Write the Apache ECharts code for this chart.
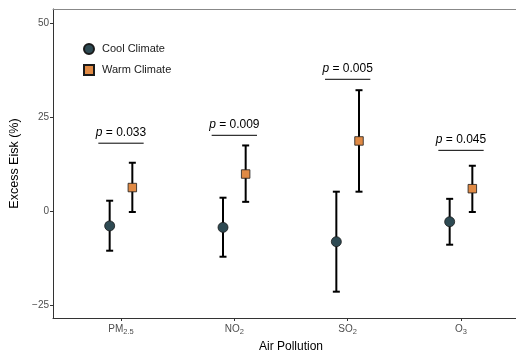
<!DOCTYPE html>
<html><head><meta charset="utf-8">
<script src="https://cdn.jsdelivr.net/npm/echarts@6/dist/echarts.min.js"></script>
<style>html,body{margin:0;padding:0;background:#fff}#c{width:516px;height:352px}</style>
</head><body><div id="c"></div>
<script>
const categories = ['PM2.5', 'NO2', 'SO2', 'O3'];
const coolMean  = [-4.0, -4.4, -8.2, -2.9];
const coolLow   = [-10.6, -12.2, -21.5, -9.0];
const coolHigh  = [2.7, 3.5, 5.1, 3.2];
const warmMean  = [6.2, 9.8, 18.6, 5.9];
const warmLow   = [-0.3, 2.4, 5.1, -0.3];
const warmHigh  = [12.8, 17.4, 32.1, 12.0];
const pValues   = ['0.033', '0.009', '0.005', '0.045'];
const pLineY    = [18.0, 20.1, 35.0, 16.1];
const yTicks    = [-25, 0, 25, 50];

const dodge = 0.1;
const xPos = categories.map((c, i) => i + 1);

function subLabel(name) {
  const m = name.match(/^([A-Z]+)(.*)$/);
  return m[2] ? '{a|' + m[1] + '}{s|' + m[2] + '}' : '{a|' + name + '}';
}

const coolData = xPos.map((x, i) => [x - dodge, coolMean[i]]);
const warmData = xPos.map((x, i) => [x + dodge, warmMean[i]]);
const errData = [];
xPos.forEach((x, i) => {
  errData.push([x - dodge, coolLow[i], coolHigh[i]]);
  errData.push([x + dodge, warmLow[i], warmHigh[i]]);
});
const pData = xPos.map((x, i) => [x, pLineY[i], pValues[i]]);

const chart = echarts.init(document.getElementById('c'));
const FONT = 'Liberation Sans, Arial, sans-serif';
chart.setOption({
  animation: false,
  textStyle: { fontFamily: FONT },
  grid: { left: 53, top: 9, right: -13, bottom: 34, containLabel: false, outerBoundsMode: 'none' },
  legend: {
    left: 78, top: 38, orient: 'vertical', itemGap: 9,
    itemWidth: 10, itemHeight: 10,
    textStyle: { fontSize: 11, color: '#1a1a1a', fontFamily: FONT, padding: [0, 0, 0, 3] },
    data: [{ name: 'Cool Climate', icon: 'circle' }, { name: 'Warm Climate', icon: 'rect' }]
  },
  xAxis: [{
    type: 'value', min: 0.4, max: 4.6,
    name: 'Air Pollution', nameLocation: 'middle', nameGap: 21,
    nameTextStyle: { fontSize: 12, color: '#000', fontFamily: FONT },
    splitLine: { show: false },
    axisLine: { show: true, onZero: false, lineStyle: { color: '#333', width: 1 } },
    axisTick: { show: true, length: 3, customValues: xPos, lineStyle: { color: '#333' } },
    axisLabel: {
      customValues: xPos, margin: 4, color: '#4d4d4d', fontSize: 10,
      formatter: v => subLabel(categories[Math.round(v) - 1]),
      rich: {
        a: { fontSize: 10, color: '#4d4d4d', fontFamily: FONT },
        s: { fontSize: 7.5, color: '#4d4d4d', fontFamily: FONT, padding: [6, 0, 0, 0] }
      }
    }
  }, {
    type: 'value', position: 'top', min: 0.4, max: 4.6,
    axisLine: { show: true, onZero: false, lineStyle: { color: '#888', width: 1 } },
    axisTick: { show: false }, axisLabel: { show: false }, splitLine: { show: false }
  }],
  yAxis: {
    type: 'value', min: -28.5, max: 53.7,
    name: 'Excess Eisk (%)', nameLocation: 'middle', nameGap: 28,
    nameTextStyle: { fontSize: 12.5, color: '#000', fontFamily: FONT },
    splitLine: { show: false },
    axisLine: { show: true, onZero: false, lineStyle: { color: '#333', width: 1 } },
    axisTick: { show: true, length: 3, customValues: yTicks, lineStyle: { color: '#333' } },
    axisLabel: {
      customValues: yTicks, margin: 4, color: '#4d4d4d', fontSize: 10,
      formatter: v => (v < 0 ? '\u2212' + Math.abs(v) : String(v))
    }
  },
  series: [
    {
      type: 'custom', name: 'err', silent: true, z: 2,
      data: errData,
      renderItem: (params, api) => {
        const lo = api.coord([api.value(0), api.value(1)]);
        const hi = api.coord([api.value(0), api.value(2)]);
        const w = 3.5;
        const st = { stroke: '#000', lineWidth: 2 };
        return { type: 'group', children: [
          { type: 'line', shape: { x1: lo[0], y1: lo[1], x2: hi[0], y2: hi[1] }, style: st },
          { type: 'line', shape: { x1: lo[0] - w, y1: lo[1], x2: lo[0] + w, y2: lo[1] }, style: st },
          { type: 'line', shape: { x1: hi[0] - w, y1: hi[1], x2: hi[0] + w, y2: hi[1] }, style: st }
        ]};
      }
    },
    {
      type: 'scatter', name: 'Cool Climate', data: coolData, z: 3,
      symbol: 'circle', symbolSize: 10,
      itemStyle: { color: '#2e4a53', borderColor: '#1a1a1a', borderWidth: 0.8, opacity: 1 }
    },
    {
      type: 'scatter', name: 'Warm Climate', data: warmData, z: 3,
      symbol: 'rect', symbolSize: 8.5,
      itemStyle: { color: '#e08a45', borderColor: '#1a1a1a', borderWidth: 0.8, opacity: 1 }
    },
    {
      type: 'custom', name: 'pval', silent: true, z: 2,
      data: pData,
      renderItem: (params, api) => {
        const l = api.coord([api.value(0) - 0.2, api.value(1)]);
        const r = api.coord([api.value(0) + 0.2, api.value(1)]);
        return { type: 'group', children: [
          { type: 'line', shape: { x1: l[0], y1: l[1], x2: r[0], y2: r[1] }, style: { stroke: '#000', lineWidth: 1 } },
          { type: 'text', x: (l[0] + r[0]) / 2, y: l[1] - 5,
            style: {
              text: '{i|p} = ' + pData[params.dataIndex][2],
              textAlign: 'center', textVerticalAlign: 'bottom',
              fontSize: 12, fill: '#000', fontFamily: FONT,
              rich: { i: { fontStyle: 'italic', fontSize: 12, fontFamily: FONT } }
            } }
        ]};
      }
    }
  ]
});
</script></body></html>
